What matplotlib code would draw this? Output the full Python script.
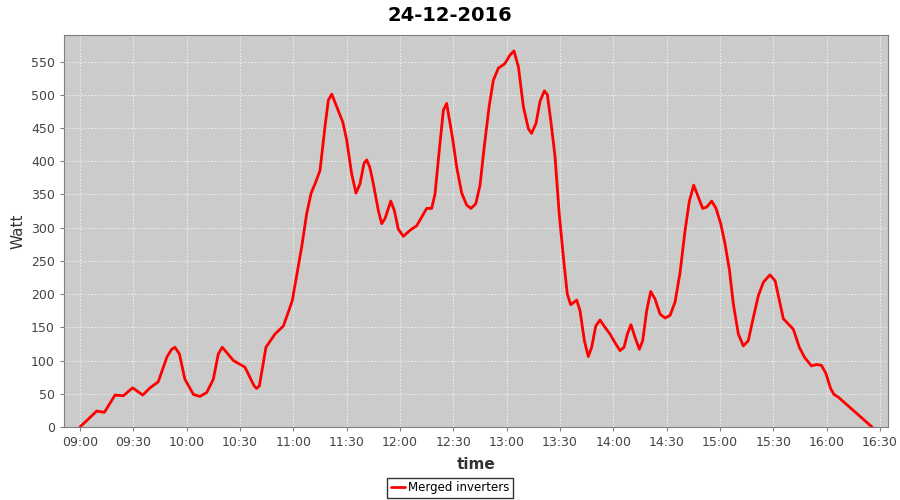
from datetime import datetime, timedelta
import matplotlib
matplotlib.use('Agg')
import matplotlib.dates as mdates
import matplotlib.pyplot as plt

# minutes after 09:00 and power in watt
minutes = [0, 4.3, 9.4, 13.7, 19.7, 24.4, 29.6, 35.3, 39.4, 44, 49, 51.6, 53.4, 55.9, 59,
           63.8, 67.5, 71.3, 75, 77.8, 80, 82.5, 86.3, 92.8, 97.9, 99.4, 100.9, 104.6,
           109.7, 114.4, 119.4, 124.7, 127.5, 130, 132.2, 135, 137.8, 139.7, 141.6, 144.4,
           147.8, 150, 152.8, 155.25, 157.5, 159.75, 161.25, 163, 165, 167.8, 169.7, 171.6,
           174.8, 176.8, 179, 181.9, 185.6, 189.4, 192.2, 195, 197.8, 199.7, 202.1, 204.4,
           206.25, 209.6, 211.9, 214.7, 217.5, 219.9, 222.6, 225, 227.4, 230.1, 232.5,
           235.3, 239, 241.9, 244.1, 246.6, 249.4, 252.2, 254, 256.5, 258.75, 261.2, 262.9,
           264.9, 267.2, 269.6, 272.25, 274.1, 276, 279.4, 281.25, 283.7, 285.9, 287.8,
           290.1, 292.5, 295.3, 298.1, 300.9, 303.75, 306, 307.9, 309.9, 312.2, 314.6,
           316.5, 318.75, 321, 323.4, 326.25, 329.1, 331.9, 334.7, 337.5, 340.3, 342.75,
           345.2, 347.8, 350.25, 352.5, 355.3, 357.75, 360.4, 362.8, 365.3, 367.5, 370.3,
           373.1, 375.9, 378.75, 381.6, 384.4, 388.1, 391, 393.4, 395.6, 398.4, 401.25,
           404.6, 407.5, 411.4, 414.2, 417, 419.5, 422.2, 424.1, 426.5, 445.5]
watts = [0, 11, 24, 22, 48, 47, 59, 48, 59, 68, 106, 117, 120, 110, 72,
         49, 46, 52, 72, 110, 120, 112, 100, 90, 62, 58, 62, 120,
         140, 152, 190, 271, 321, 352, 366, 386, 452, 492, 501, 482,
         459, 432, 381, 352, 366, 397, 402, 391, 366, 326, 306, 314,
         340, 326, 298, 287, 296, 303, 316, 329, 329, 351, 417, 477,
         487, 434, 391, 352, 334, 329, 336, 364, 422, 482, 522,
         540, 547, 560, 566, 542, 482, 449, 442, 457, 490, 506, 500,
         459, 407, 319, 246, 200, 184, 191, 175, 130, 106, 120,
         152, 161, 150, 140, 127, 115, 120, 140, 154, 135, 117,
         130, 175, 204, 193, 170, 164, 168, 188, 232, 295, 340,
         364, 346, 329, 331, 340, 329, 306, 276, 236, 185, 140,
         122, 130, 165, 198, 218, 229, 220, 190, 163, 155, 147,
         120, 105, 92, 94, 93, 81, 58, 49, 45, 0]

start = datetime(2016, 12, 24, 9, 0)
times = [start + timedelta(minutes=m) for m in minutes]

fig = plt.figure(figsize=(9, 5), dpi=100)
ax = fig.add_axes([0.0711, 0.146, 0.9156, 0.784])
ax.set_facecolor('#cbcbcb')

line, = ax.plot(times, watts, color='#ff0000', linewidth=2, label='Merged inverters',
                solid_joinstyle='round', solid_capstyle='round')

ax.set_xlim(start - timedelta(minutes=9), start + timedelta(minutes=454.5))
ax.set_ylim(0, 590)
ax.set_yticks(range(0, 551, 50))
ax.xaxis.set_major_locator(mdates.MinuteLocator(byminute=[0, 30]))
ax.xaxis.set_major_formatter(mdates.DateFormatter('%H:%M'))

ax.grid(True, color='#f4f4f4', linestyle=(0, (2, 2)), linewidth=0.6)
ax.set_axisbelow(True)
for s in ax.spines.values():
    s.set_color('#808080')
ax.tick_params(colors='#808080', labelcolor='#444444', labelsize=9, length=3)

ax.set_ylabel('Watt', fontsize=11, color='#333333')
ax.set_xlabel('time', fontsize=11, color='#333333', fontweight='bold', labelpad=6)
fig.suptitle('24-12-2016', fontsize=14, fontweight='bold', y=0.988)

leg = fig.legend(handles=[line], loc='lower center', bbox_to_anchor=(0.5, 0.004), fontsize=8.5,
                 frameon=True, fancybox=False, handlelength=1.2, handletextpad=0.25,
                 borderpad=0.3, borderaxespad=0)
leg.get_frame().set_edgecolor('black')
leg.get_frame().set_linewidth(1)

fig.savefig('out.png', dpi=100)
